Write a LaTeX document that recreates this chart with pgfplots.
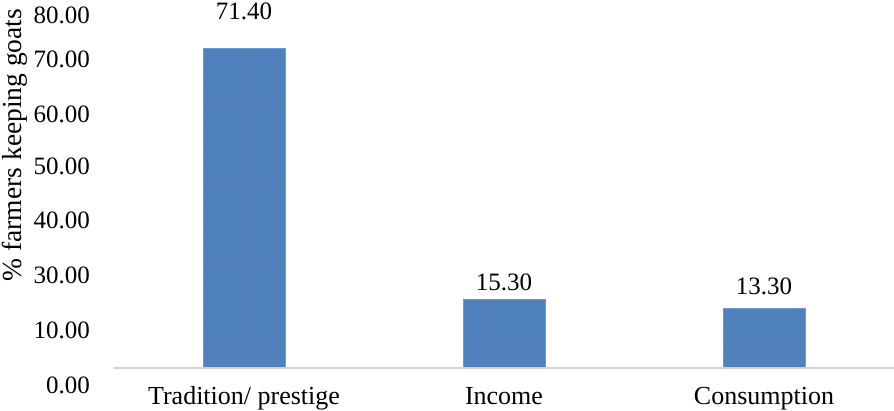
\documentclass[border=0pt]{standalone}
\usepackage{pgfplots}
\pgfplotsset{compat=1.18}
\usepackage{pgfplotstable}
\usepackage{fontspec}
\setmainfont{Liberation Serif}
\usetikzlibrary{patterns.meta}

\definecolor{barblue}{RGB}{79,129,189}
\definecolor{baredge}{RGB}{110,155,210}
\definecolor{dotcol}{RGB}{150,110,80}

% x, value, label offset above bar top (pt)
\pgfplotstableread{
x  y     off
0  71.4  29
1  15.3  9
2  13.3  14
}\reasons

\begin{document}
\begin{tikzpicture}
\begin{axis}[
  name=ax,
  scale only axis,
  width=894pt, height=411pt,
  xmin=-0.9385, xmax=2.5,
  ymin=-9.609, ymax=82.235,
  clip=false,
  axis line style={draw=none},
  tick style={draw=none},
  major tick length=0pt,
  xtick={0,1,2},
  xticklabels={Tradition/ prestige, Income, Consumption},
  xticklabel style={anchor=base, inner sep=0pt, yshift=6pt, font=\fontsize{26}{31}\selectfont},
  ytick={-5.59,6.70,18.99,31.28,43.13,54.75,67.26,77.09},
  yticklabels={0.00,10.00,30.00,40.00,50.00,60.00,70.00,80.00},
  yticklabel style={anchor=base east, inner sep=0pt, xshift=90pt, font=\fontsize{25}{30}\selectfont},
  ylabel={\% farmers keeping goats},
  ylabel style={at={(rel axis cs:0.0165,0.647)}, anchor=center, inner sep=0pt,
    font=\fontsize{27.5}{32}\selectfont},
  /pgf/number format/assume math mode=true,
]
\addplot[ybar, bar width=0.315, fill=barblue, draw=baredge, line width=0.8pt,
  postaction={pattern={Dots[distance=5pt, radius=0.45pt]}, pattern color=dotcol!70!barblue},
  visualization depends on={\thisrow{off} \as \off},
  nodes near coords={\pgfmathprintnumber[fixed,zerofill,precision=2]{\pgfplotspointmeta}},
  every node near coord/.append style={anchor=base, inner sep=0pt, yshift=\off pt,
    font=\fontsize{25}{30}\selectfont, text=black},
] table[x=x, y=y] {\reasons};
\addplot[draw=black!18, line width=1.6pt] coordinates {(-0.5,0) (2.5,0)};
\end{axis}
\pgfresetboundingbox
\path (ax.south west) rectangle (ax.north east);
\end{tikzpicture}
\end{document}
